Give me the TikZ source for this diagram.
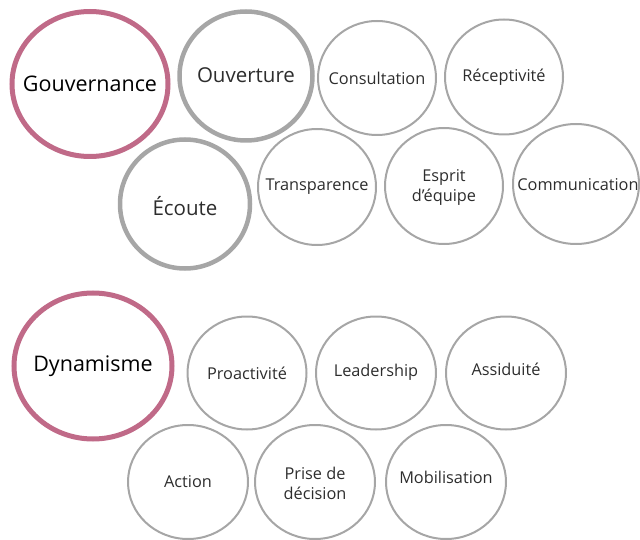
\documentclass[tikz,border=0pt]{standalone}
\usepackage{fontspec}
\setmainfont{Open Sans}
\definecolor{pinkc}{RGB}{192,106,136}
\definecolor{grayc}{RGB}{166,166,166}
\definecolor{txtc}{RGB}{45,45,45}
\tikzset{
  headtxt/.style={inner sep=0pt, font=\fontsize{21.5}{24}\selectfont, text=black},
  midtxt/.style={inner sep=0pt, font=\fontsize{20.5}{23}\selectfont, text=txtc},
  leaftxt/.style={inner sep=0pt, font=\fontsize{16.3}{20}\selectfont, text=txtc, align=center},
  headring/.style={draw=pinkc, line width=5pt},
  midring/.style={draw=grayc, line width=4.5pt},
  leafring/.style={draw=grayc, line width=2pt}
}
\begin{document}
\begin{tikzpicture}[x=1pt,y=-1pt]
\useasboundingbox (0,0) rectangle (640,540);
% Gouvernance group
\node[headtxt] (gouv) at (90,84) {Gouvernance};
\draw[headring] (gouv.center) ellipse [x radius=78pt, y radius=72.5pt];
\node[midtxt] (ouv) at (246,75) {Ouverture};
\draw[midring] (246,76) ellipse [x radius=66.5pt, y radius=64.5pt];
\node[midtxt] (ecou) at (185,206) {Écoute};
\draw[midring] (185,204) ellipse [x radius=65pt, y radius=64.5pt];
\node[leaftxt] (cons) at (377,78) {Consultation};
\draw[leafring] (cons.center) ellipse [x radius=59pt, y radius=57pt];
\node[leaftxt] (recep) at (504,77) {Réceptivité};
\draw[leafring] (recep.center) ellipse [x radius=59pt, y radius=57.5pt];
\node[leaftxt] (transp) at (317,187) {Transparence};
\draw[leafring] (transp.center) ellipse [x radius=59pt, y radius=58pt];
\node[leaftxt] (esprit) at (444,187) {Esprit\\d’équipe};
\draw[leafring] (444,186) ellipse [x radius=59pt, y radius=58pt];
\node[leaftxt] (comm) at (578,185) {Communication};
\draw[leafring] (576,184) ellipse [x radius=63pt, y radius=60pt];
% Dynamisme group
\node[headtxt] (dyn) at (93,366) {Dynamisme};
\draw[headring] (dyn.center) ellipse [x radius=79pt, y radius=73pt];
\node[leaftxt] (proa) at (247,373) {Proactivité};
\draw[leafring] (proa.center) ellipse [x radius=59.5pt, y radius=56.5pt];
\node[leaftxt] (lead) at (376,372) {Leadership};
\draw[leafring] (376,373) ellipse [x radius=60pt, y radius=56.5pt];
\node[leaftxt] (assid) at (506,369) {Assiduité};
\draw[leafring] (506,373) ellipse [x radius=60pt, y radius=56.5pt];
\node[leaftxt] (act) at (188,482) {Action};
\draw[leafring] (act.center) ellipse [x radius=60pt, y radius=57pt];
\node[leaftxt] (prise) at (315,483) {Prise de\\décision};
\draw[leafring] (315,482) ellipse [x radius=60pt, y radius=57pt];
\node[leaftxt] (mob) at (446,477) {Mobilisation};
\draw[leafring] (446,482) ellipse [x radius=60pt, y radius=57pt];
\end{tikzpicture}
\end{document}
